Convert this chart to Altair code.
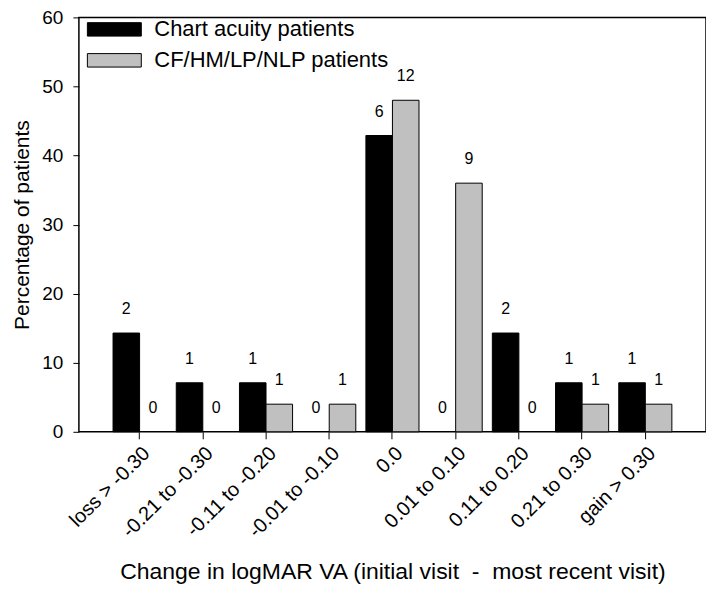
import altair as alt
import pandas as pd

categories = ["loss > -0.30", "-0.21 to -0.30", "-0.11 to -0.20", "-0.01 to -0.10",
              "0.0", "0.01 to 0.10", "0.11 to 0.20", "0.21 to 0.30", "gain > 0.30"]
series = ["Chart acuity patients", "CF/HM/LP/NLP patients"]
chart_pct = [14.3, 7.1, 7.1, 0, 42.9, 0, 14.3, 7.1, 7.1]
chart_n = [2, 1, 1, 0, 6, 0, 2, 1, 1]
cf_pct = [0, 0, 4, 4, 48, 36, 0, 4, 4]
cf_n = [0, 0, 1, 1, 12, 9, 0, 1, 1]

rows = []
for c, p, n in zip(categories, chart_pct, chart_n):
    rows.append({"cat": c, "series": series[0], "pct": p, "n": n})
for c, p, n in zip(categories, cf_pct, cf_n):
    rows.append({"cat": c, "series": series[1], "pct": p, "n": n})
df = pd.DataFrame(rows)

FONT = "Liberation Sans"

x = alt.X("cat:N", sort=categories,
          scale=alt.Scale(paddingInner=0.16, paddingOuter=0.54),
          axis=alt.Axis(title="Change in logMAR VA (initial visit \u00a0-\u00a0 most recent visit)",
                        labelAngle=-45, labelFontSize=20, titleFontSize=23,
                        titleFontWeight="normal", tickSize=7, labelPadding=4,
                        titleY=147, titleBaseline="alphabetic",
                        domain=False, tickColor="black",
                        labelColor="black", titleColor="black", labelFont=FONT, titleFont=FONT))
y = alt.Y("pct:Q", scale=alt.Scale(domain=[0, 60], nice=False),
          axis=alt.Axis(title="Percentage of patients", values=[0, 10, 20, 30, 40, 50, 60],
                        labelFontSize=19, titleFontSize=21, titleFontWeight="normal",
                        tickSize=6, grid=False, domain=False, tickColor="black",
                        labelColor="black", titleColor="black",
                        titleX=-50, titleBaseline="alphabetic",
                        labelPadding=10, labelFont=FONT, titleFont=FONT))
xoff = alt.XOffset("series:N", sort=series)

bars = alt.Chart(df).transform_filter("datum.pct > 0").mark_bar(
    stroke="black", strokeWidth=1).encode(
    x=x, y=y, xOffset=xoff,
    fill=alt.Fill("series:N", sort=series,
                  scale=alt.Scale(domain=series, range=["#000000", "#c0c0c0"]),
                  legend=alt.Legend(title=None, orient="none", legendX=21.5, legendY=-2,
                                    symbolType="M-2,-0.5L2,-0.5L2,0.5L-2,0.5Z",
                                    symbolSize=729, symbolStrokeColor="black",
                                    symbolStrokeWidth=1, labelFontSize=22,
                                    labelFont=FONT, labelColor="black", labelLimit=0,
                                    labelOffset=26, rowPadding=6, padding=0)),
)

labels = alt.Chart(df).mark_text(dy=-24, baseline="middle", fontSize=16,
                                 font=FONT, color="black").encode(
    x=alt.X("cat:N", sort=categories), y="pct:Q", xOffset=xoff, text="n:Q"
)

chart = alt.layer(bars, labels).properties(
    width=628, height=415, background="white",
    autosize=alt.AutoSizeParams(type="none"),
    padding={"left": 71, "top": 9, "right": 0, "bottom": 152},
).configure_view(stroke="black", strokeWidth=1.5)

chart.save("out.html", embed_options={"renderer": "svg", "actions": False})
